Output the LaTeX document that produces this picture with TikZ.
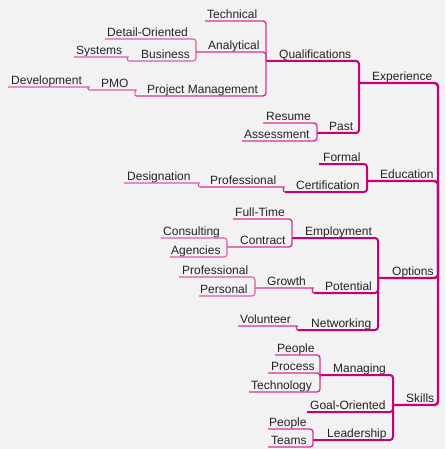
\documentclass[tikz,border=0pt]{standalone}
\usepackage{fontspec}
\setmainfont{Liberation Sans}
\definecolor{bg}{RGB}{242,242,242}
\definecolor{mgA}{RGB}{200,0,120}
\definecolor{mgB}{RGB}{214,50,150}
\definecolor{mgC}{RGB}{222,90,170}
\definecolor{txt}{RGB}{35,35,35}
\tikzset{
  lbl/.style={anchor=base west, inner sep=0pt, font=\fontsize{12}{14}\selectfont, text=txt},
  trunk/.style={draw=mgA, line width=2.4pt, rounded corners=3.5pt},
  lvA/.style={draw=mgA, line width=2pt, rounded corners=3pt},
  lvB/.style={draw=mgB, line width=1.4pt, rounded corners=3pt},
  lvC/.style={draw=mgC, line width=1.1pt, rounded corners=3pt},
}
% name, x1, x2, y, text x, text
\newcommand\topic[6]{%
  \coordinate (#1-l) at (#2,#4);
  \coordinate (#1-r) at (#3,#4);
  \node[lbl] (#1) at (#5,#4-2.8) {#6};}
% child, parent, style
\newcommand\joinup[3]{\draw[#3] (#1-l) -- (#1-r) -- (#2-l);}
\newcommand\stepup[3]{\draw[#3] (#1-l) -- (#1-r) to[out=0,in=180] (#2-l);}
\begin{document}
\begin{tikzpicture}[x=1pt,y=-1pt]
\fill[bg] (0,0) rectangle (445,449);
\useasboundingbox (0,0) rectangle (445,449);
\coordinate (root-l) at (438,244);
% level 1
\topic{exp}{359}{438}{83}{372}{Experience}
\topic{edu}{367}{438}{181}{380}{Education}
\topic{opt}{378}{438}{278}{392}{Options}
\topic{skl}{393}{438}{405}{406}{Skills}
% level 2
\topic{qual}{266}{359}{61}{279}{Qualifications}
\topic{past}{317}{359}{133}{329}{Past}
\topic{formal}{319}{367}{164}{323}{Formal}
\topic{cert}{285}{367}{192}{296}{Certification}
\topic{empl}{292}{378}{238}{305}{Employment}
\topic{pot}{314}{378}{293}{325}{Potential}
\topic{netw}{298}{378}{330}{311}{Networking}
\topic{mng}{320}{393}{375}{333}{Managing}
\topic{goal}{307}{393}{412}{310}{Goal-Oriented}
\topic{lead}{313}{393}{440}{327}{Leadership}
% level 3
\topic{tech}{205}{266}{21}{207}{Technical}
\topic{anal}{196}{266}{52}{208}{Analytical}
\topic{pm}{136}{266}{96}{147}{Project Management}
\topic{resume}{263}{317}{123}{266}{Resume}
\topic{assess}{242}{317}{141}{244}{Assessment}
\topic{prof}{200}{281}{187}{210}{Professional}
\topic{full}{233}{292}{219}{235}{Full-Time}
\topic{contract}{227}{292}{247}{240}{Contract}
\topic{growth}{255}{310}{288}{267}{Growth}
\topic{vol}{238}{294}{326}{240}{Volunteer}
\topic{peopleA}{275}{320}{355}{277}{People}
\topic{process}{268}{320}{373}{271}{Process}
\topic{techno}{249}{320}{392}{251}{Technology}
\topic{peopleB}{268}{313}{429}{269}{People}
\topic{teams}{268}{313}{447}{271}{Teams}
% level 4
\topic{detail}{105}{196}{39}{107}{Detail-Oriented}
\topic{business}{129}{196}{61}{141}{Business}
\topic{pmo}{89}{133}{90}{101}{PMO}
\topic{desig}{124}{196}{183}{127}{Designation}
\topic{consult}{161}{227}{238}{163}{Consulting}
\topic{agency}{170}{227}{257}{171}{Agencies}
\topic{profB}{179}{255}{277}{182}{Professional}
\topic{personal}{199}{255}{296}{200}{Personal}
% level 5
\topic{systems}{74}{125}{57}{76}{Systems}
\topic{devel}{8}{86}{87}{11}{Development}
% connectors
\joinup{exp}{root}{trunk}
\joinup{edu}{root}{trunk}
\joinup{opt}{root}{trunk}
\joinup{skl}{root}{trunk}
\joinup{qual}{exp}{lvA}
\joinup{past}{exp}{lvA}
\joinup{formal}{edu}{lvA}
\joinup{cert}{edu}{lvA}
\joinup{empl}{opt}{lvA}
\joinup{pot}{opt}{lvA}
\joinup{netw}{opt}{lvA}
\joinup{mng}{skl}{lvA}
\joinup{goal}{skl}{lvA}
\joinup{lead}{skl}{lvA}
\joinup{tech}{qual}{lvB}
\joinup{anal}{qual}{lvB}
\joinup{pm}{qual}{lvB}
\joinup{resume}{past}{lvB}
\joinup{assess}{past}{lvB}
\stepup{prof}{cert}{lvB}
\joinup{full}{empl}{lvB}
\joinup{contract}{empl}{lvB}
\stepup{growth}{pot}{lvB}
\stepup{vol}{netw}{lvB}
\joinup{peopleA}{mng}{lvB}
\joinup{process}{mng}{lvB}
\joinup{techno}{mng}{lvB}
\joinup{peopleB}{lead}{lvB}
\joinup{teams}{lead}{lvB}
\joinup{detail}{anal}{lvC}
\joinup{business}{anal}{lvC}
\stepup{pmo}{pm}{lvC}
\stepup{desig}{prof}{lvC}
\joinup{consult}{contract}{lvC}
\joinup{agency}{contract}{lvC}
\joinup{profB}{growth}{lvC}
\joinup{personal}{growth}{lvC}
\stepup{systems}{business}{lvC}
\stepup{devel}{pmo}{lvC}
\end{tikzpicture}
\end{document}
